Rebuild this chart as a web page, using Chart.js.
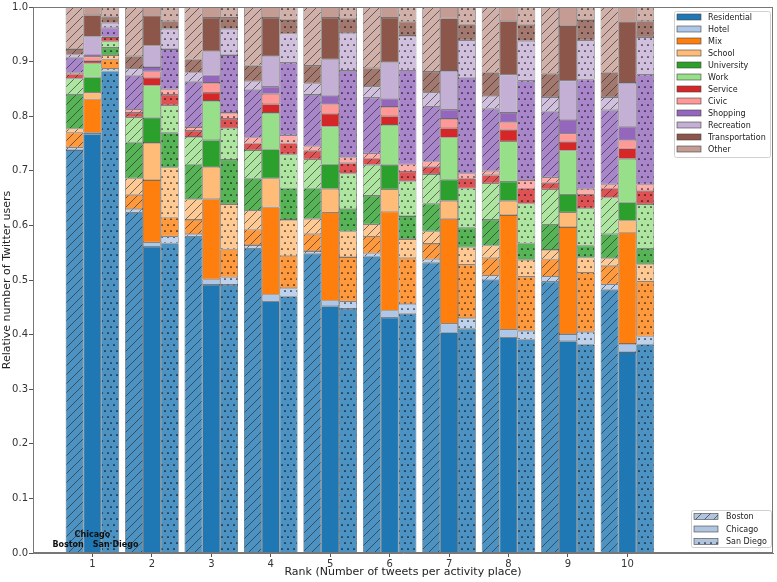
<!DOCTYPE html>
<html>
<head>
<meta charset="utf-8">
<script src="https://cdn.jsdelivr.net/npm/chart.js@4/dist/chart.umd.min.js"></script>
<style>
    html, body { margin: 0; padding: 0; background: #fff; }
    #wrap { width: 777px; height: 582px; }
</style>
</head>
<body>
<div id="wrap"><canvas id="chart" width="777" height="582"></canvas></div>
<script>
const ranks = [1, 2, 3, 4, 5, 6, 7, 8, 9, 10];
const cities = ['Boston', 'Chicago', 'San Diego'];
const categories = ['Residential', 'Hotel', 'Mix', 'School', 'University', 'Work',
    'Service', 'Civic', 'Shopping', 'Recreation', 'Transportation', 'Other'];
const categoryColors = ['#1f77b4', '#aec7e8', '#ff7f0e', '#ffbb78', '#2ca02c', '#98df8a',
    '#d62728', '#ff9896', '#9467bd', '#c5b0d5', '#8c564b', '#c49c94'];

// one row per category (same order as categories), one column per rank
const boston = [
    [0.738, 0.624, 0.580, 0.558, 0.548, 0.543, 0.532, 0.500, 0.497, 0.482],
    [0.005, 0.006, 0.004, 0.006, 0.005, 0.006, 0.006, 0.008, 0.009, 0.010],
    [0.027, 0.026, 0.026, 0.028, 0.031, 0.031, 0.028, 0.032, 0.032, 0.034],
    [0.007, 0.030, 0.038, 0.035, 0.028, 0.022, 0.023, 0.023, 0.017, 0.014],
    [0.063, 0.066, 0.064, 0.059, 0.056, 0.052, 0.051, 0.047, 0.047, 0.044],
    [0.029, 0.046, 0.050, 0.052, 0.053, 0.057, 0.054, 0.067, 0.064, 0.067],
    [0.008, 0.008, 0.011, 0.012, 0.016, 0.012, 0.013, 0.015, 0.012, 0.017],
    [0.003, 0.006, 0.007, 0.011, 0.008, 0.009, 0.010, 0.008, 0.010, 0.007],
    [0.027, 0.062, 0.083, 0.087, 0.094, 0.102, 0.101, 0.114, 0.120, 0.136],
    [0.006, 0.013, 0.017, 0.016, 0.021, 0.020, 0.025, 0.023, 0.027, 0.024],
    [0.010, 0.023, 0.024, 0.029, 0.032, 0.034, 0.038, 0.043, 0.043, 0.045],
    [0.077, 0.090, 0.096, 0.107, 0.108, 0.112, 0.119, 0.120, 0.122, 0.120]
];
const chicago = [
    [0.767, 0.561, 0.491, 0.461, 0.452, 0.431, 0.404, 0.395, 0.388, 0.368],
    [0.003, 0.008, 0.010, 0.012, 0.010, 0.013, 0.016, 0.014, 0.013, 0.015],
    [0.061, 0.114, 0.147, 0.160, 0.162, 0.181, 0.192, 0.210, 0.196, 0.204],
    [0.012, 0.068, 0.059, 0.053, 0.043, 0.041, 0.033, 0.026, 0.027, 0.022],
    [0.028, 0.046, 0.049, 0.053, 0.045, 0.045, 0.039, 0.035, 0.033, 0.033],
    [0.026, 0.059, 0.072, 0.067, 0.069, 0.073, 0.077, 0.074, 0.080, 0.080],
    [0.004, 0.014, 0.015, 0.016, 0.023, 0.016, 0.017, 0.021, 0.016, 0.019],
    [0.008, 0.012, 0.018, 0.019, 0.018, 0.017, 0.017, 0.014, 0.015, 0.015],
    [0.004, 0.008, 0.014, 0.013, 0.015, 0.015, 0.017, 0.017, 0.025, 0.025],
    [0.033, 0.039, 0.044, 0.056, 0.067, 0.067, 0.071, 0.070, 0.072, 0.080],
    [0.039, 0.055, 0.061, 0.070, 0.076, 0.081, 0.096, 0.098, 0.100, 0.112],
    [0.015, 0.016, 0.020, 0.020, 0.020, 0.020, 0.021, 0.026, 0.035, 0.027]
];
const sanDiego = [
    [0.882, 0.567, 0.491, 0.470, 0.447, 0.438, 0.411, 0.391, 0.382, 0.382],
    [0.005, 0.013, 0.014, 0.015, 0.014, 0.018, 0.019, 0.016, 0.023, 0.015],
    [0.017, 0.034, 0.051, 0.059, 0.081, 0.084, 0.098, 0.099, 0.109, 0.100],
    [0.008, 0.092, 0.083, 0.066, 0.047, 0.035, 0.032, 0.031, 0.027, 0.032],
    [0.013, 0.064, 0.081, 0.058, 0.041, 0.042, 0.036, 0.030, 0.022, 0.029],
    [0.012, 0.050, 0.058, 0.062, 0.065, 0.064, 0.072, 0.073, 0.068, 0.081],
    [0.008, 0.019, 0.017, 0.020, 0.019, 0.017, 0.018, 0.028, 0.026, 0.024],
    [0.001, 0.010, 0.011, 0.015, 0.011, 0.014, 0.009, 0.015, 0.010, 0.012],
    [0.016, 0.074, 0.106, 0.133, 0.158, 0.172, 0.175, 0.182, 0.200, 0.201],
    [0.009, 0.037, 0.048, 0.053, 0.069, 0.063, 0.069, 0.073, 0.072, 0.069],
    [0.011, 0.014, 0.020, 0.025, 0.026, 0.026, 0.029, 0.029, 0.037, 0.029],
    [0.018, 0.026, 0.020, 0.024, 0.022, 0.027, 0.032, 0.033, 0.024, 0.026]
];
const cityData = [boston, chicago, sanDiego];

const canvas = document.getElementById('chart');
const ctx = canvas.getContext('2d');
const FONT = '"DejaVu Sans", sans-serif';

// colour with alpha over white, as an opaque rgb
function fade(hex, a) {
    const n = parseInt(hex.slice(1), 16);
    const ch = [(n >> 16) & 255, (n >> 8) & 255, n & 255].map(v => Math.round(v * a + 255 * (1 - a)));
    return `rgb(${ch[0]},${ch[1]},${ch[2]})`;
}

function hatchPattern(base) {
    const s = 9;
    const c = document.createElement('canvas');
    c.width = s; c.height = s;
    const g = c.getContext('2d');
    g.fillStyle = base;
    g.fillRect(0, 0, s, s);
    g.strokeStyle = 'rgba(40,40,40,0.8)';
    g.lineWidth = 0.8;
    g.beginPath();
    g.moveTo(0, s); g.lineTo(s, 0);
    g.moveTo(-1, 1); g.lineTo(1, -1);
    g.moveTo(s - 1, s + 1); g.lineTo(s + 1, s - 1);
    g.stroke();
    return ctx.createPattern(c, 'repeat');
}

function dotPattern(base) {
    const s = 12;
    const c = document.createElement('canvas');
    c.width = s; c.height = s;
    const g = c.getContext('2d');
    g.fillStyle = base;
    g.fillRect(0, 0, s, s);
    g.fillStyle = 'rgba(0,0,0,0.9)';
    [[3, 3], [9, 3], [0, 9], [6, 9], [12, 9]].forEach(([px, py]) => {
        g.beginPath();
        g.arc(px, py, 0.85, 0, Math.PI * 2);
        g.fill();
    });
    return ctx.createPattern(c, 'repeat');
}

function fillFor(cityIndex, color) {
    if (cityIndex === 0) return hatchPattern(fade(color, 0.8));
    if (cityIndex === 2) return dotPattern(fade(color, 0.8));
    return color;
}

const datasets = [];
cities.forEach((city, ci) => {
    categories.forEach((cat, k) => {
        datasets.push({
            label: cat,
            stack: city,
            data: ranks.map((r, i) => ({ x: r, y: cityData[ci][k][i] })),
            backgroundColor: fillFor(ci, categoryColors[k]),
            borderColor: '#333',
            borderWidth: 0.6,
            borderSkipped: false
        });
    });
});

// legends, frame and city names
const extras = {
    id: 'extras',
    afterDraw(chart) {
        const { ctx, chartArea: a, scales: { x, y } } = chart;
        ctx.save();

        ctx.strokeStyle = '#777';
        ctx.lineWidth = 1;
        ctx.strokeRect(a.left + 0.5, a.top + 0.5, a.right - a.left - 1, a.bottom - a.top - 1);

        ctx.font = 'bold 8px ' + FONT;
        ctx.fillStyle = '#111';
        ctx.textAlign = 'center';
        ctx.textBaseline = 'middle';
        ctx.fillText(cities[0], x.getPixelForValue(0.59), y.getPixelForValue(0.015));
        ctx.fillText(cities[1], x.getPixelForValue(1.0), y.getPixelForValue(0.034));
        ctx.fillText(cities[2], x.getPixelForValue(1.39), y.getPixelForValue(0.015));

        function box(l, t, w, h) {
            ctx.beginPath();
            ctx.roundRect(l + 0.5, t + 0.5, w, h, 2);
            ctx.fillStyle = 'rgba(255,255,255,0.85)';
            ctx.fill();
            ctx.strokeStyle = '#d0d0d0';
            ctx.lineWidth = 1;
            ctx.stroke();
        }

        ctx.font = '8px ' + FONT;
        ctx.textAlign = 'left';

        // category legend
        let l = a.right - 99, t = a.top + 4;
        box(l, t, 96, 146);
        categories.forEach((cat, k) => {
            const cy = t + 6 + k * 12;
            ctx.fillStyle = categoryColors[k];
            ctx.fillRect(l + 3, cy - 3, 24, 6);
            ctx.strokeStyle = '#444';
            ctx.lineWidth = 0.6;
            ctx.strokeRect(l + 3, cy - 3, 24, 6);
            ctx.fillStyle = '#222';
            ctx.fillText(cat, l + 34, cy + 0.5);
        });

        // city legend
        l = a.right - 82; t = a.bottom - 43;
        box(l, t, 80, 37);
        const fills = [hatchPattern('#b0c4de'), '#b0c4de', dotPattern('#b0c4de')];
        cities.forEach((city, ci) => {
            const cy = t + 6.5 + ci * 12.5;
            ctx.fillStyle = fills[ci];
            ctx.fillRect(l + 3, cy - 3, 24, 6);
            ctx.strokeStyle = '#444';
            ctx.lineWidth = 0.6;
            ctx.strokeRect(l + 3, cy - 3, 24, 6);
            ctx.fillStyle = '#222';
            ctx.fillText(city, l + 35, cy + 0.5);
        });

        ctx.restore();
    }
};

new Chart(ctx, {
    type: 'bar',
    data: { datasets },
    options: {
        responsive: false,
        animation: false,
        categoryPercentage: 0.9,
        barPercentage: 1.0,
        layout: { padding: { top: 3, right: 4, left: 0, bottom: 0 } },
        plugins: {
            legend: { display: false },
            tooltip: { enabled: false }
        },
        scales: {
            x: {
                type: 'linear',
                min: 0,
                max: 12.45,
                offset: false,
                afterBuildTicks: s => { s.ticks = ranks.map(v => ({ value: v })); },
                afterFit: s => { s.height = 29; },
                grid: { offset: false, drawOnChartArea: false, drawTicks: true, tickLength: 4, color: '#555' },
                border: { display: true, color: '#777' },
                ticks: { padding: 1, color: '#333', font: { family: FONT, size: 10 }, callback: v => String(v) },
                title: { display: true, text: 'Rank (Number of tweets per activity place)', color: '#222',
                    font: { family: FONT, size: 11 }, padding: { top: 0, bottom: 3 } }
            },
            y: {
                stacked: true,
                min: 0,
                max: 1,
                afterFit: s => { s.width = 33; },
                grid: { drawOnChartArea: false, drawTicks: true, tickLength: 4, color: '#555' },
                border: { display: true, color: '#777' },
                ticks: { stepSize: 0.1, padding: 1, color: '#333', font: { family: FONT, size: 10 },
                    callback: v => v.toFixed(1) },
                title: { display: true, text: 'Relative number of Twitter users', color: '#222',
                    font: { family: FONT, size: 11 }, padding: { top: 1, bottom: 0 } }
            }
        }
    },
    plugins: [extras]
});
</script>
</body>
</html>
